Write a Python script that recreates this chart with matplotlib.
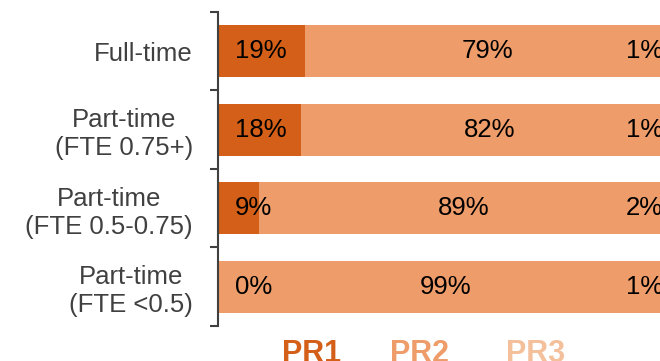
import matplotlib
matplotlib.use('Agg')
import matplotlib.pyplot as plt

plt.rcParams['font.family'] = ['Liberation Sans', 'DejaVu Sans']

categories = ['Full-time', 'Part-time\n(FTE 0.75+)', 'Part-time\n(FTE 0.5-0.75)', 'Part-time\n(FTE <0.5)']
series = ['PR1', 'PR2', 'PR3']
pr1 = [19, 18, 9, 0]
pr2 = [79, 82, 89, 99]
pr3 = [1, 1, 2, 1]
colors = ['#D35F18', '#EE9C69', '#F4BF9B']

fig = plt.figure(figsize=(6.6, 3.61), dpi=100)
ax = fig.add_axes([0.3303, 0.097, 0.697, 0.870])

y = list(range(len(categories)))
left2 = pr1
left3 = [a + b for a, b in zip(pr1, pr2)]
ax.barh(y, pr1, height=0.66, color=colors[0])
ax.barh(y, pr2, left=left2, height=0.66, color=colors[1])
ax.barh(y, pr3, left=left3, height=0.66, color=colors[1])

for i in y:
    ax.text(3.6, i, f'{pr1[i]}%', ha='left', va='center', fontsize=18.5, color='black')
    ax.text(pr1[i] + pr2[i] / 2, i, f'{pr2[i]}%', ha='center', va='center', fontsize=18.5, color='black')
    ax.text(96.8, i, f'{pr3[i]}%', ha='right', va='center', fontsize=18.5, color='black')

ax.set_xlim(0, 100)
ax.set_ylim(3.5, -0.5)
ax.set_xticks([])
ax.set_yticks([-0.5, 0.5, 1.5, 2.5, 3.5])
ax.set_yticklabels([])
ax.set_yticks(y, minor=True)
ax.set_yticklabels(categories, minor=True, fontsize=18.5, color='#404040', multialignment='center')
ax.tick_params(axis='y', which='major', direction='out', length=6, width=1.5, color='#404040')
ax.tick_params(axis='y', which='minor', length=0, pad=18)

for s in ['top', 'right', 'bottom']:
    ax.spines[s].set_visible(False)
ax.spines['left'].set_color('#404040')
ax.spines['left'].set_linewidth(1.5)

legend_x = [0.472, 0.636, 0.812]
for name, c, xx in zip(series, colors, legend_x):
    fig.text(xx, -0.004, name, ha='center', va='baseline', fontsize=22, fontweight='bold', color=c)

fig.savefig('out.png', dpi=100)
